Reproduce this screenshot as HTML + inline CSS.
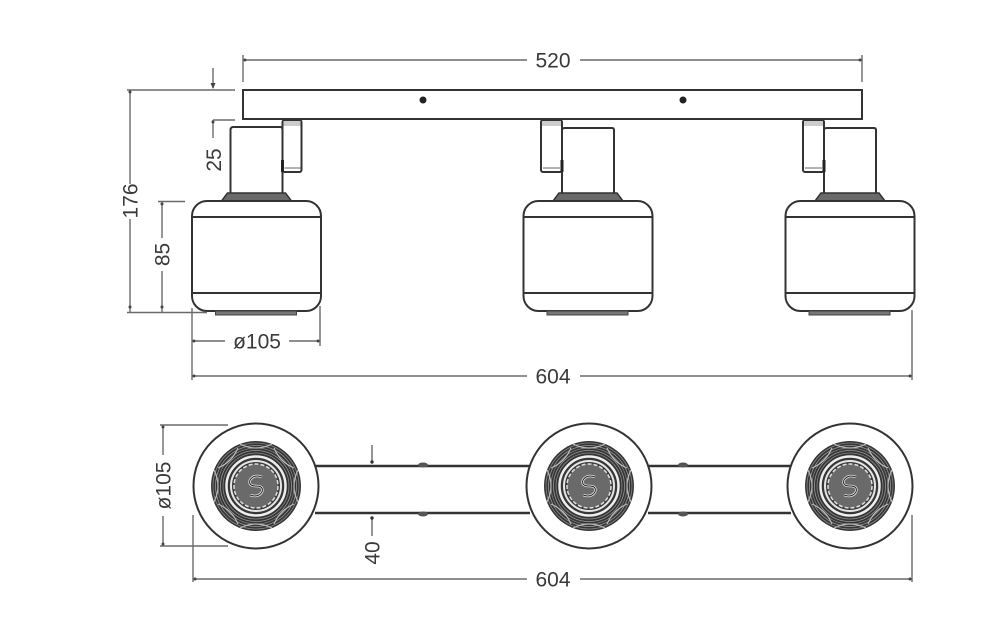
<!DOCTYPE html>
<html><head><meta charset="utf-8"><style>
html,body{margin:0;padding:0;background:#fff;width:1000px;height:640px;overflow:hidden}
svg{display:block}
text{font-family:"Liberation Sans",sans-serif;font-size:21px;fill:#3a3a3a}
.d{stroke:#6a6a6a;stroke-width:1.4;fill:none}
.o{stroke:#333;stroke-width:2;fill:#fff}
.l{stroke:#333;stroke-width:2;fill:none}
</style></head><body>
<svg width="1000" height="640" viewBox="0 0 1000 640" xmlns="http://www.w3.org/2000/svg">
<defs>
  <g id="lampR">
    <rect x="26" y="120" width="19" height="52" rx="2" class="o"/>
    <rect x="27" y="121" width="17" height="5" fill="#ccc"/>
    <line x1="28" y1="168" x2="44" y2="168" stroke="#666" stroke-width="1"/>
    <path d="M-26,193 L-26,130 Q-26,127 -23,127 L24,127 Q26,127 26,130 L26,193" class="o"/>
    <line x1="26" y1="160" x2="26" y2="172" stroke="#222" stroke-width="3"/>
  </g>
  <g id="lampL">
    <rect x="-47" y="120" width="21" height="52" rx="2" class="o"/>
    <rect x="-46" y="121" width="19" height="5" fill="#ccc"/>
    <line x1="-45" y1="168" x2="-28" y2="168" stroke="#666" stroke-width="1"/>
    <path d="M-26,193 L-26,130 Q-26,128 -23,128 L24,128 Q26,128 26,130 L26,193" class="o"/>
    <line x1="-26" y1="160" x2="-26" y2="172" stroke="#222" stroke-width="3"/>
  </g>
  <g id="body">
    <polygon points="-29,193 29,193 35,201 -35,201" fill="#6a6a6a" stroke="#333" stroke-width="1.5"/>
    <rect x="-64.5" y="201" width="129" height="110" rx="15" class="o"/>
    <line x1="-64" y1="217" x2="64" y2="217" stroke="#333" stroke-width="2"/>
    <line x1="-64" y1="293" x2="64" y2="293" stroke="#333" stroke-width="2"/>
    <rect x="-41" y="311" width="81" height="4" fill="#777" stroke="#444" stroke-width="1"/>
  </g>
  <g id="bot">
    <circle r="62.5" fill="#fff" stroke="#333" stroke-width="2"/>
    <circle r="45" fill="#353535"/>
    <circle r="43" fill="none" stroke="#888" stroke-width="0.8"/>
    <circle r="40.5" fill="none" stroke="#999" stroke-width="0.8"/>
    <circle r="38" fill="none" stroke="#888" stroke-width="0.8"/>
    <circle r="35.5" fill="none" stroke="#999" stroke-width="0.8"/>
    <circle r="33" fill="none" stroke="#888" stroke-width="0.8"/>
    <g stroke="#bbb" stroke-width="1.2" fill="none">
      <path d="M-16,-42 Q0,-34 16,-42"/><path d="M-16,42 Q0,34 16,42"/>
      <path d="M-42,-16 Q-34,0 -42,16"/><path d="M42,-16 Q34,0 42,16"/>
      <path d="M18,-38 Q24,-24 38,-18"/><path d="M-18,-38 Q-24,-24 -38,-18"/>
      <path d="M18,38 Q24,24 38,18"/><path d="M-18,38 Q-24,24 -38,18"/>
    </g>
    <circle r="29.5" fill="none" stroke="#eee" stroke-width="2.5"/>
    <circle r="27" fill="#3a3a3a"/>
    <circle r="25" fill="none" stroke="#e6e6e6" stroke-width="2"/>
    <circle r="22" fill="#6a6a6a" stroke="#ddd" stroke-width="1.5" stroke-dasharray="4 2"/>
    <path d="M6,-9 Q-2,-12 -6,-6 Q-8,0 0,0 Q8,0 6,6 Q2,12 -6,9" fill="none" stroke="#eee" stroke-width="2.5"/>
    <path d="M6,-9 Q-2,-12 -6,-6 Q-8,0 0,0 Q8,0 6,6 Q2,12 -6,9" fill="none" stroke="#222" stroke-width="1"/>
  </g>
</defs>

<!-- 520 dim -->
<line x1="243" y1="55" x2="243" y2="82" class="d"/>
<line x1="862" y1="55" x2="862" y2="82" class="d"/>
<line x1="243" y1="60" x2="527" y2="60" class="d"/>
<line x1="580" y1="60" x2="862" y2="60" class="d"/>
<circle cx="245" cy="60" r="1.5" fill="#444"/><circle cx="860" cy="60" r="1.5" fill="#444"/>
<text x="553" y="67.5" text-anchor="middle">520</text>

<!-- bar -->
<rect x="243" y="90" width="619" height="29" class="o"/>
<circle cx="423" cy="100" r="3.5" fill="#222"/>
<circle cx="683" cy="100" r="3.5" fill="#222"/>

<!-- lamps -->
<g transform="translate(256.5,0)"><use href="#lampR"/><use href="#body"/></g>
<g transform="translate(588,0)"><use href="#lampL"/><use href="#body"/></g>
<g transform="translate(850,0)"><use href="#lampL"/><use href="#body"/></g>

<!-- small top arrow -->
<line x1="213" y1="68" x2="213" y2="88" class="d"/>
<polygon points="210.5,83 215.5,83 213,89" fill="#444"/>
<!-- 176 dim -->
<line x1="127" y1="90" x2="235" y2="90" class="d"/>
<line x1="127" y1="312.5" x2="207" y2="312.5" class="d"/>
<line x1="130" y1="90" x2="130" y2="184" class="d"/>
<line x1="130" y1="219" x2="130" y2="312" class="d"/>
<circle cx="130" cy="92" r="1.5" fill="#444"/><circle cx="130" cy="307" r="1.5" fill="#444"/>
<text transform="translate(137.5,201) rotate(-90)" text-anchor="middle">176</text>

<!-- 25 -->
<line x1="213" y1="120" x2="235" y2="120" class="d"/>
<line x1="213" y1="120" x2="213" y2="138" class="d"/>
<circle cx="213" cy="122" r="1.5" fill="#444"/>
<text transform="translate(221,160) rotate(-90)" text-anchor="middle">25</text>

<!-- 85 -->
<line x1="158" y1="201.5" x2="185" y2="201.5" class="d"/>
<line x1="162" y1="202" x2="162" y2="238" class="d"/>
<line x1="162" y1="271" x2="162" y2="312" class="d"/>
<circle cx="162" cy="204" r="1.5" fill="#444"/><circle cx="162" cy="307" r="1.5" fill="#444"/>
<text transform="translate(169.5,254.5) rotate(-90)" text-anchor="middle">85</text>

<!-- ø105 top -->
<line x1="192" y1="308" x2="192" y2="380" class="d"/>
<line x1="320" y1="306" x2="320" y2="346" class="d"/>
<line x1="192" y1="341" x2="225" y2="341" class="d"/>
<line x1="289" y1="341" x2="320" y2="341" class="d"/>
<circle cx="194" cy="341" r="1.5" fill="#444"/><circle cx="318" cy="341" r="1.5" fill="#444"/>
<text x="257" y="348.5" text-anchor="middle">ø105</text>

<!-- 604 top -->
<line x1="912" y1="310" x2="912" y2="380" class="d"/>
<line x1="192" y1="376" x2="527" y2="376" class="d"/>
<line x1="580" y1="376" x2="912" y2="376" class="d"/>
<circle cx="194" cy="376" r="1.5" fill="#444"/><circle cx="910" cy="376" r="1.5" fill="#444"/>
<text x="553" y="383.5" text-anchor="middle">604</text>

<!-- bottom view -->
<line x1="315" y1="466" x2="530" y2="466" stroke="#333" stroke-width="2.5"/>
<line x1="315" y1="513" x2="530" y2="513" stroke="#333" stroke-width="2.5"/>
<line x1="648" y1="466" x2="791" y2="466" stroke="#333" stroke-width="2.5"/>
<line x1="648" y1="513" x2="791" y2="513" stroke="#333" stroke-width="2.5"/>
<ellipse cx="423" cy="465" rx="5" ry="2.5" fill="#555"/>
<ellipse cx="423" cy="514" rx="5" ry="2.5" fill="#555"/>
<ellipse cx="683" cy="465" rx="5" ry="2.5" fill="#555"/>
<ellipse cx="683" cy="514" rx="5" ry="2.5" fill="#555"/>

<use href="#bot" x="256" y="486"/>
<use href="#bot" x="589" y="486"/>
<use href="#bot" x="850" y="486"/>

<!-- ø105 bottom -->
<line x1="160" y1="425" x2="228" y2="425" class="d"/>
<line x1="160" y1="546" x2="228" y2="546" class="d"/>
<line x1="163" y1="425" x2="163" y2="455" class="d"/>
<line x1="163" y1="516" x2="163" y2="546" class="d"/>
<circle cx="163" cy="427" r="1.5" fill="#444"/><circle cx="163" cy="544" r="1.5" fill="#444"/>
<text transform="translate(170.5,485.5) rotate(-90)" text-anchor="middle">ø105</text>

<!-- 40 -->
<line x1="372" y1="445" x2="372" y2="463" class="d"/>
<line x1="372" y1="517" x2="372" y2="536" class="d"/>
<circle cx="372" cy="462" r="1.7" fill="#333"/><circle cx="372" cy="518" r="1.7" fill="#333"/>
<text transform="translate(379.5,553) rotate(-90)" text-anchor="middle">40</text>

<!-- 604 bottom -->
<line x1="193" y1="515" x2="193" y2="582" class="d"/>
<line x1="912" y1="515" x2="912" y2="582" class="d"/>
<line x1="193" y1="579" x2="527" y2="579" class="d"/>
<line x1="580" y1="579" x2="912" y2="579" class="d"/>
<circle cx="195" cy="579" r="1.5" fill="#444"/><circle cx="910" cy="579" r="1.5" fill="#444"/>
<text x="553" y="586.5" text-anchor="middle">604</text>
</svg>
</body></html>
